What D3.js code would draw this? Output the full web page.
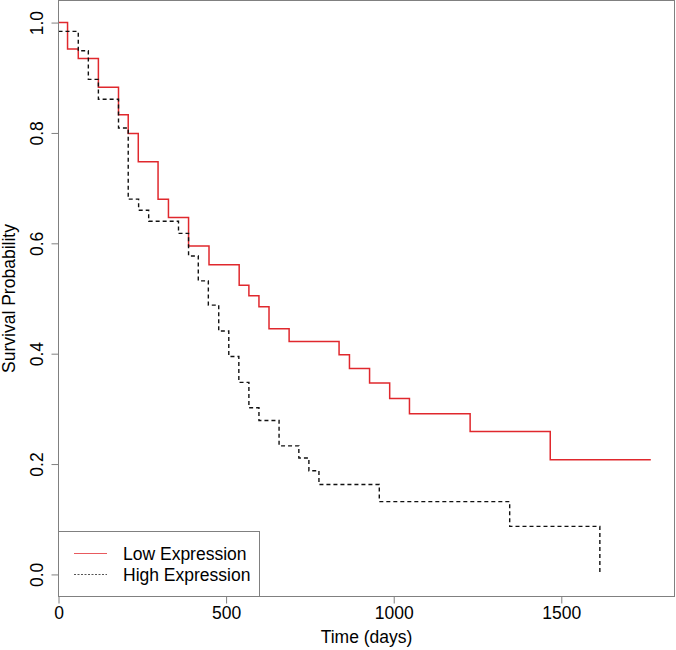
<!DOCTYPE html>
<html>
<head>
<meta charset="utf-8">
<script src="https://cdn.jsdelivr.net/npm/d3@7"></script>
<style>
  html, body { margin: 0; padding: 0; background: #fff; }
  svg { display: block; font-family: "Liberation Sans", Arial, sans-serif; }
</style>
</head>
<body>
<svg id="chart" width="676" height="650"></svg>
<script>
// ---- data ----
const seriesNames = ["Low Expression", "High Expression"];

// Low Expression: event times (days) and survival after each step
const lowStart = 1.0;
const lowTimes = [27, 59, 119, 179, 208, 238, 297, 328, 388, 449, 539, 568, 598, 628, 688, 837, 868, 928, 988, 1047, 1228, 1467];
const lowSurv  = [0.952, 0.935, 0.883, 0.833, 0.799, 0.748, 0.680, 0.647, 0.595, 0.561, 0.524, 0.505, 0.485, 0.445, 0.422, 0.398, 0.373, 0.347, 0.319, 0.291, 0.259, 0.208];
const lowEnd = 1767;

// High Expression
const highStart = 0.984;
const highTimes = [59, 89, 119, 179, 208, 239, 269, 358, 388, 417, 447, 478, 508, 538, 568, 598, 658, 717, 747, 777, 957, 1346, 1615];
const highSurv  = [0.949, 0.897, 0.861, 0.809, 0.680, 0.660, 0.640, 0.618, 0.577, 0.532, 0.488, 0.441, 0.395, 0.348, 0.302, 0.279, 0.233, 0.211, 0.188, 0.163, 0.132, 0.087, 0.0];
const highEnd = 1615;

const xTicks = [0, 500, 1000, 1500];
const yTicks = [0.0, 0.2, 0.4, 0.6, 0.8, 1.0];

// ---- layout ----
const svg = d3.select("#chart");
const L = 58.5, R = 674.5, T = 0.5, B = 596.5;
const boxColor = "#808080";
const fs = 17.5;

const x = d3.scaleLinear().domain([0, lowEnd * 1.04]).range([L, R]);
const y = d3.scaleLinear().domain([-0.04, 1.04]).range([B, T]);

function stepPoints(start, times, surv, end) {
  const pts = [[0, start]];
  let cur = start;
  times.forEach((t, i) => { pts.push([t, cur]); cur = surv[i]; pts.push([t, cur]); });
  if (end > times[times.length - 1]) pts.push([end, cur]);
  return pts;
}

const line = d3.line().x(d => x(d[0])).y(d => y(d[1]));

svg.append("path")
  .datum(stepPoints(lowStart, lowTimes, lowSurv, lowEnd))
  .attr("d", line).attr("fill", "none")
  .attr("stroke", "#e0282d").attr("stroke-width", 1.5);

svg.append("path")
  .datum(stepPoints(highStart, highTimes, highSurv, highEnd))
  .attr("d", line).attr("fill", "none")
  .attr("stroke", "#111").attr("stroke-width", 1.4)
  .attr("stroke-dasharray", "4,3");

// ---- axes ----
const xAxis = svg.append("g").attr("transform", `translate(0,${B})`)
  .call(d3.axisBottom(x).tickValues(xTicks).tickSize(7).tickFormat(d3.format("d")));
xAxis.select(".domain").remove();
xAxis.selectAll("line").attr("stroke", boxColor);
xAxis.selectAll("text").attr("font-size", fs).attr("fill", "#000")
  .attr("font-family", "Liberation Sans, Arial, sans-serif");

const yAxis = svg.append("g").attr("transform", `translate(${L},0)`)
  .call(d3.axisLeft(y).tickValues(yTicks).tickSize(7).tickFormat(d3.format(".1f")));
yAxis.select(".domain").remove();
yAxis.selectAll("line").attr("stroke", boxColor);
yAxis.selectAll("text")
  .attr("font-size", fs).attr("fill", "#000")
  .attr("font-family", "Liberation Sans, Arial, sans-serif")
  .attr("text-anchor", "middle").attr("dominant-baseline", "central")
  .attr("transform", "rotate(-90)")
  .attr("x", 0).attr("y", -22).attr("dy", null);

// box
svg.append("rect").attr("x", L).attr("y", T).attr("width", R - L).attr("height", B - T)
  .attr("fill", "none").attr("stroke", boxColor).attr("stroke-width", 1);

// axis titles
svg.append("text").attr("x", (L + R) / 2).attr("y", 643)
  .attr("text-anchor", "middle").attr("font-size", fs).text("Time (days)");
svg.append("text").attr("transform", `translate(15,${(T + B) / 2}) rotate(-90)`)
  .attr("text-anchor", "middle").attr("font-size", fs).text("Survival Probability");

// ---- legend ----
const lg = svg.append("g");
lg.append("rect").attr("x", L).attr("y", 531.5).attr("width", 259.5 - L).attr("height", B - 531.5)
  .attr("fill", "#fff").attr("stroke", boxColor).attr("stroke-width", 1);
const legendStyles = [
  { color: "#e85a5e", dash: null, width: 1 },
  { color: "#555", dash: "2,1.5", width: 1 }
];
seriesNames.forEach((name, i) => {
  const yy = 553.5 + i * 21;
  lg.append("line").attr("x1", 74).attr("x2", 107).attr("y1", yy).attr("y2", yy)
    .attr("stroke", legendStyles[i].color).attr("stroke-width", legendStyles[i].width)
    .attr("stroke-dasharray", legendStyles[i].dash);
  lg.append("text").attr("x", 123).attr("y", yy).attr("dominant-baseline", "central")
    .attr("font-size", fs).text(name);
});
</script>
</body>
</html>
